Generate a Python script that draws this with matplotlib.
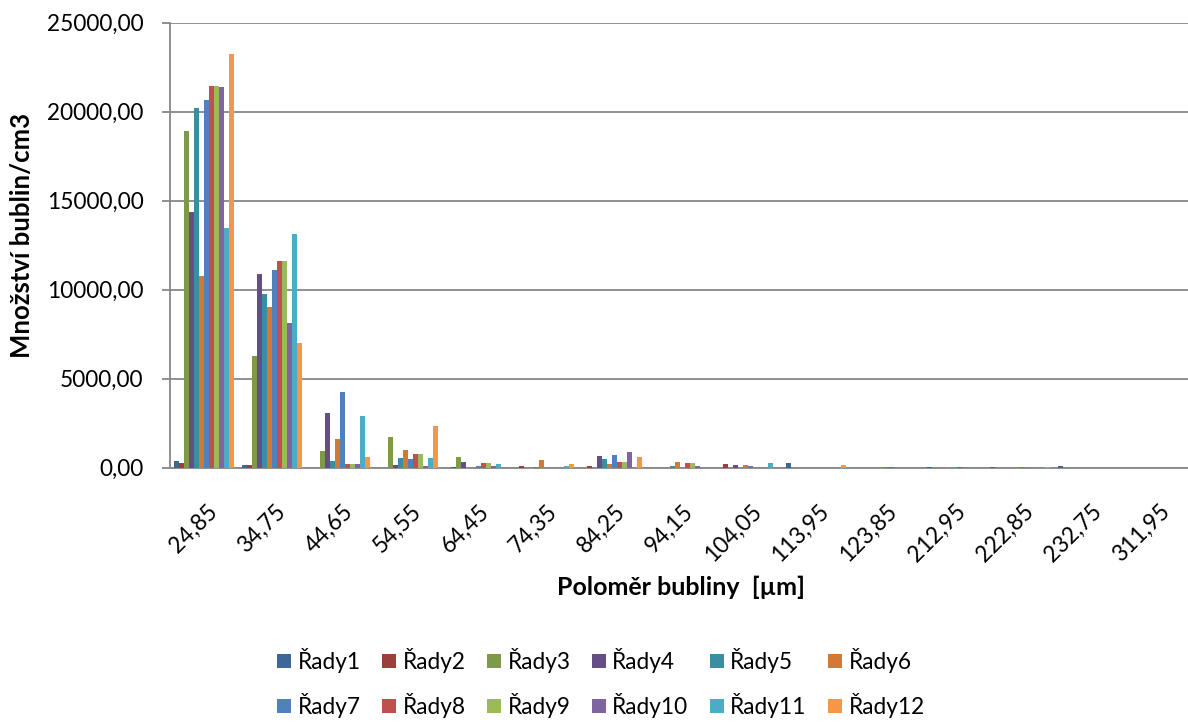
import numpy as np
import matplotlib
matplotlib.use('Agg')
import matplotlib.pyplot as plt
import matplotlib.transforms as mtransforms
from matplotlib.ticker import FuncFormatter

plt.rcParams['font.family'] = ['Lato', 'DejaVu Sans']

# bubble radius classes (x categories)
radius_labels = ['24,85', '34,75', '44,65', '54,55', '64,45', '74,35', '84,25', '94,15',
                 '104,05', '113,95', '123,85', '212,95', '222,85', '232,75', '311,95']

series_names = ['Řady1', 'Řady2', 'Řady3', 'Řady4', 'Řady5', 'Řady6',
                'Řady7', 'Řady8', 'Řady9', 'Řady10', 'Řady11', 'Řady12']

# values per series, one entry per radius class
rady1 = [390, 130, 0, 0, 0, 0, 0, 0, 0, 280, 0, 0, 25, 80, 0]
rady2 = [260, 150, 0, 0, 40, 110, 95, 0, 205, 0, 0, 20, 0, 0, 0]
rady3 = [18900, 6290, 920, 1740, 600, 0, 0, 0, 0, 0, 0, 15, 0, 0, 0]
rady4 = [14350, 10880, 3090, 130, 300, 0, 655, 0, 150, 0, 0, 0, 0, 0, 0]
rady5 = [20190, 9760, 375, 520, 0, 50, 470, 75, 0, 0, 0, 0, 0, 0, 0]
rady6 = [10790, 9030, 1590, 990, 0, 430, 225, 330, 130, 0, 0, 15, 0, 0, 0]
rady7 = [20680, 11130, 4230, 490, 110, 0, 730, 0, 80, 0, 20, 0, 15, 0, 0]
rady8 = [21460, 11630, 190, 790, 260, 0, 340, 260, 0, 0, 25, 15, 0, 0, 0]
rady9 = [21450, 11620, 190, 780, 260, 0, 340, 260, 0, 0, 0, 0, 0, 0, 0]
rady10 = [21370, 8110, 190, 110, 110, 0, 880, 95, 0, 0, 0, 0, 0, 0, 0]
rady11 = [13450, 13110, 2900, 540, 190, 75, 0, 0, 280, 0, 0, 0, 0, 0, 0]
rady12 = [23260, 7000, 600, 2360, 0, 190, 580, 0, 0, 150, 0, 0, 15, 0, 0]

all_series = [rady1, rady2, rady3, rady4, rady5, rady6,
              rady7, rady8, rady9, rady10, rady11, rady12]

colors = ['#3E6799', '#9E3E3B', '#7E9A47', '#654D86', '#3A8EA2', '#D17A35',
          '#4F81BD', '#C0504D', '#9BBB59', '#8064A2', '#4BACC6', '#F79646']

fig = plt.figure(figsize=(11.88, 7.22), dpi=100)
ax = fig.add_axes([170 / 1188, 1 - 467.7 / 722, 1020 / 1188, 445 / 722])

x = np.arange(len(radius_labels))
bar_w = 5 / 68
handles = []
for j, (vals, name, c) in enumerate(zip(all_series, series_names, colors)):
    h = ax.bar(x + (j - 5.5) * bar_w, vals, width=bar_w, color=c, label=name, zorder=3)
    handles.append(h)

ax.set_xlim(-0.5, len(radius_labels) - 0.5)
ax.set_ylim(0, 25000)
ax.set_yticks(np.arange(0, 25001, 5000))
ax.yaxis.set_major_formatter(FuncFormatter(lambda v, p: '{:.2f}'.format(v).replace('.', ',')))
ax.grid(axis='y', color='#878787', linewidth=1.3, zorder=0)

for s in ['top', 'right']:
    ax.spines[s].set_visible(False)
for s in ['left', 'bottom']:
    ax.spines[s].set_color('#878787')
    ax.spines[s].set_linewidth(1.3)

ax.tick_params(axis='y', length=6, width=1.3, color='#878787', pad=13, labelsize=16.3)
ax.tick_params(axis='x', length=0, pad=29, labelsize=16.3)

ax.set_xticks(x)
ax.set_xticklabels(radius_labels, rotation=45, rotation_mode='anchor', ha='right', va='center')
shift = mtransforms.ScaledTranslation(10 / 100, 0, fig.dpi_scale_trans)
for lab in ax.get_xticklabels():
    lab.set_transform(lab.get_transform() + shift)

ax.set_ylabel('Množství bublin/cm3', fontsize=18.5, fontweight='bold')
ax.yaxis.set_label_coords(-0.133, 0.523)
ax.set_xlabel('Poloměr bubliny  [µm]', fontsize=18, fontweight='bold')
ax.xaxis.set_label_coords(0.501, -0.243)

# legend filled row by row: 1..6 on the first row, 7..12 on the second
order = [0, 6, 1, 7, 2, 8, 3, 9, 4, 10, 5, 11]
fig.legend([handles[i] for i in order], [series_names[i] for i in order],
           loc='center', bbox_to_anchor=(601 / 1188, 1 - 683 / 722), ncol=6,
           frameon=False, fontsize=16.3, handlelength=0.6, handleheight=0.6,
           handletextpad=0.3, columnspacing=0.95, labelspacing=0.9)

fig.savefig('out.png', dpi=100)
